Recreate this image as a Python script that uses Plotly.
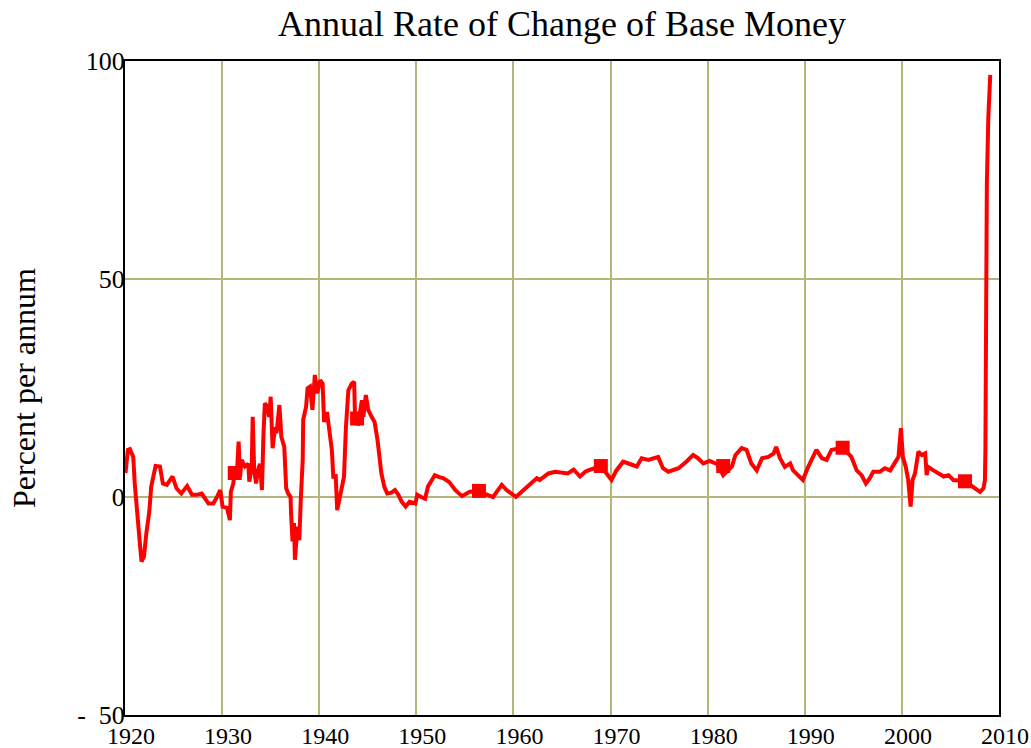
import plotly.graph_objects as go

years = [1920.05, 1920.3, 1920.5, 1920.85, 1921.0, 1921.2, 1921.5, 1921.7, 1921.95, 1922.2,
         1922.5, 1922.7, 1922.9, 1923.15, 1923.6, 1923.9, 1924.3, 1924.9, 1925.3, 1925.8,
         1926.4, 1926.9, 1927.4, 1927.9, 1928.6, 1929.1, 1929.5, 1929.8, 1930.05, 1930.5,
         1930.8, 1930.9, 1931.15, 1931.3, 1931.5, 1931.7, 1931.85, 1932.0, 1932.35, 1932.7,
         1932.8, 1933.05, 1933.15, 1933.3, 1933.5, 1933.7, 1933.9, 1934.1, 1934.25, 1934.4,
         1934.65, 1934.85, 1935.0, 1935.2, 1935.45, 1935.6, 1935.9, 1936.1, 1936.4, 1936.6,
         1936.8, 1937.05, 1937.1, 1937.25, 1937.4, 1937.5, 1937.75, 1937.95, 1938.1, 1938.3,
         1938.35, 1938.65, 1938.8, 1939.05, 1939.3, 1939.55, 1939.8, 1940.1, 1940.35, 1940.5,
         1940.8, 1941.05, 1941.3, 1941.45, 1941.7, 1941.85, 1942.05, 1942.3, 1942.55, 1942.75,
         1943.0, 1943.35, 1943.6, 1943.7, 1944.0, 1944.4, 1944.55, 1944.8, 1945.05, 1945.4,
         1945.7, 1946.0, 1946.25, 1946.4, 1946.7, 1947.0, 1947.45, 1947.8, 1948.15, 1948.5,
         1948.9, 1949.3, 1949.9, 1950.1, 1950.5, 1950.9, 1951.2, 1951.6, 1951.9, 1952.3,
         1952.8, 1953.4, 1954.0, 1954.7, 1955.5, 1956.4, 1957.9, 1958.8, 1959.3, 1960.25,
         1961.0, 1961.7, 1962.4, 1962.7, 1963.6, 1964.3, 1965.1, 1965.6, 1966.2, 1966.85,
         1967.4, 1967.7, 1969.0, 1970.1, 1970.6, 1971.3, 1972.2, 1972.7, 1973.2, 1973.9,
         1974.9, 1975.4, 1975.95, 1977.0, 1977.8, 1978.5, 1979.0, 1979.55, 1980.2, 1981.0,
         1981.6, 1982.5, 1982.85, 1983.5, 1984.0, 1984.5, 1985.05, 1985.6, 1986.25, 1986.8,
         1987.05, 1987.45, 1987.95, 1988.5, 1988.8, 1989.35, 1989.8, 1990.35, 1990.9, 1991.2,
         1991.75, 1992.25, 1992.75, 1993.9, 1994.8, 1995.35, 1995.85, 1996.3, 1996.7, 1997.05,
         1997.75, 1998.25, 1998.8, 1999.3, 1999.65, 1999.9, 2000.1, 2000.4, 2000.65, 2000.9,
         2001.1, 2001.35, 2001.7, 2002.05, 2002.4, 2002.55, 2002.7, 2003.25, 2003.75, 2004.3,
         2004.8, 2005.3, 2006.5, 2007.5, 2008.05, 2008.4, 2008.55, 2008.6, 2008.65, 2008.75,
         2008.9, 2009.1]
rate = [5.5, 10.8, 11.0, 9.2, 3.2, -3.0, -9.9, -14.8, -13.7, -8.3,
        -3.4, 2.4, 5.0, 7.1, 7.0, 3.1, 2.8, 4.7, 2.0, 0.8,
        2.5, 0.5, 0.5, 0.8, -1.5, -1.5, 0.1, 1.6, -2.2, -2.5,
        -5.3, 1.2, 3.1, 6.0, 4.5, 12.7, 4.6, 8.5, 7.0, 7.6,
        3.5, 7.0, 18.4, 6.2, 3.1, 6.2, 7.6, 1.6, 13.8, 21.5,
        20.7, 18.4, 23.0, 11.2, 16.0, 14.6, 21.1, 13.8, 11.5, 2.0,
        0.8, 0.0, -3.7, -10.2, -6.0, -14.4, -6.8, -9.9, -0.7, 8.5,
        17.7, 20.7, 24.9, 25.3, 20.0, 28.0, 23.8, 26.8, 26.0, 17.2,
        19.5, 15.4, 10.8, 4.7, 4.8, -3.0, -0.7, 1.6, 4.6, 16.0,
        24.5, 26.0, 26.4, 16.9, 16.8, 22.2, 18.4, 23.4, 20.0, 18.4,
        17.2, 13.1, 8.5, 5.4, 2.4, 0.8, 1.0, 1.6, 0.5, -1.1,
        -2.2, -1.1, -1.5, 0.5, 0.0, -0.4, 2.4, 3.9, 5.0, 4.6,
        4.3, 3.4, 1.6, 0.2, 1.2, 1.3, 0.0, 2.8, 1.6, 0.0,
        1.6, 2.8, 4.3, 3.9, 5.4, 5.8, 5.6, 5.4, 6.3, 4.7,
        5.8, 6.1, 7.1, 3.9, 6.1, 8.1, 7.4, 7.0, 8.9, 8.5,
        9.2, 6.6, 5.8, 6.6, 8.1, 9.6, 8.9, 7.7, 8.3, 7.5,
        5.0, 7.0, 9.6, 11.2, 10.8, 7.7, 6.1, 8.9, 9.2, 10.0,
        11.5, 8.9, 6.9, 7.7, 6.1, 5.0, 3.9, 6.9, 9.6, 10.8,
        8.9, 8.5, 10.8, 11.3, 9.2, 6.1, 5.0, 3.1, 4.3, 5.8,
        5.8, 6.6, 6.1, 8.1, 9.2, 15.8, 9.2, 6.9, 3.9, -2.2,
        3.9, 5.4, 10.4, 9.6, 10.0, 5.0, 6.9, 6.1, 5.4, 4.7,
        5.0, 3.9, 3.6, 2.0, 1.2, 2.0, 3.9, 10.8, 49.0, 72.0,
        87.0, 96.8]

marker_years = [1931.3, 1943.9, 1956.45, 1969.0, 1981.6, 1993.9, 2006.5]
marker_rate = [5.5, 18.0, 1.4, 7.1, 7.1, 11.3, 3.6]

x_ticks = [1920, 1930, 1940, 1950, 1960, 1970, 1980, 1990, 2000, 2010]
y_ticks = [-50, 0, 50, 100]
y_ticktext = ["-\u00a0\u00a050", "0", "50", "100"]

RED = "#FF0000"
GRID = "#B5B57A"
FONT = "Liberation Serif, Times New Roman, serif"

W, H = 1031, 748
L, T, R, B = 125, 61, 32, 33
plot_w = W - L - R

fig = go.Figure()
fig.add_trace(go.Scatter(x=years, y=rate, mode="lines",
                         line=dict(color=RED, width=4), showlegend=False,
                         hoverinfo="x+y"))
fig.add_trace(go.Scatter(x=marker_years, y=marker_rate, mode="markers",
                         marker=dict(symbol="square", size=14, color=RED),
                         showlegend=False))

fig.update_layout(
    width=W, height=H,
    margin=dict(l=L, r=R, t=T, b=B, autoexpand=False),
    paper_bgcolor="white", plot_bgcolor="white",
    font=dict(family=FONT, color="black", size=24),
    title=dict(text="Annual Rate of Change of Base Money", x=0.5, xref="paper",
               xanchor="center", y=1 - 23 / H, yref="container", yanchor="middle",
               font=dict(family=FONT, size=36, color="black")),
    xaxis=dict(range=[1920, 2010], tickvals=x_ticks, ticks="", showgrid=True,
               gridcolor=GRID, gridwidth=2, zeroline=False, showline=True,
               linecolor="black", linewidth=2, mirror=True, automargin=False,
               tickfont=dict(family=FONT, size=24), ticklabelshift=6,
               ticklabelstandoff=-2),
    yaxis=dict(range=[-50, 100], tickvals=y_ticks, ticktext=y_ticktext, ticks="",
               showgrid=True, gridcolor=GRID, gridwidth=2, zeroline=False,
               showline=True, linecolor="black", linewidth=2, mirror=True,
               automargin=False,
               tickfont=dict(family=FONT, size=26), ticklabelstandoff=-7),
    annotations=[dict(text="Percent per annum", textangle=-90, xref="paper", yref="paper",
                      x=(24 - L) / plot_w, y=0.5, xanchor="center", yanchor="middle",
                      showarrow=False, font=dict(family=FONT, size=32, color="black"))],
)

# remove the browser's default 8 px body margin so the figure fills the window exactly
fig.write_html("out.html", config={"displayModeBar": False},
               post_script="document.body.style.margin='0';"
                           "document.body.style.overflow='hidden';")
